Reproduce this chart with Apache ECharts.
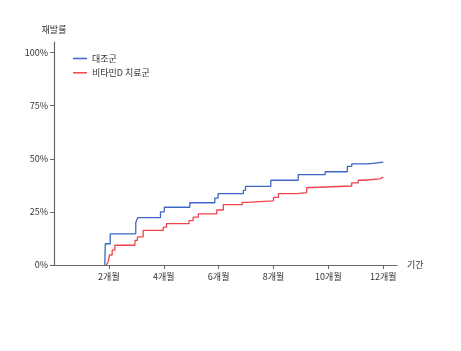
<!DOCTYPE html>
<html>
<head>
<meta charset="utf-8">
<script src="https://cdn.jsdelivr.net/npm/echarts@6/dist/echarts.min.js"></script>
<style>html,body{margin:0;padding:0;background:#fff}#c{width:461px;height:351px}</style>
</head>
<body>
<div id="c"></div>
<script>
var seriesNames = ['대조군', '비타민D 치료군'];
var xTicks = [2, 4, 6, 8, 10, 12];
var yTicks = [0, 25, 50, 75, 100];
// [month, cumulative recurrence %]
var controlData = [
  [1.85, 0], [1.87, 10], [2.05, 14.7], [2.98, 20], [3.05, 22.3], [3.88, 25], [4.02, 27.2],
  [4.95, 29.3], [5.86, 31.5], [5.98, 33.6], [6.9, 35.1], [6.98, 37], [7.9, 39.9],
  [8.9, 42.6], [9.88, 43.9], [10.69, 46.4], [10.85, 47.6], [11.46, 48.4], [12, 48.4]
];
var vitaminDData = [
  [1.91, 0], [1.97, 1.5], [2.03, 4.7], [2.12, 7], [2.22, 9.3], [2.95, 11.6], [3.04, 13.2],
  [3.25, 16.3], [3.98, 17.8], [4.1, 19.5], [4.92, 20.9], [5.07, 22.5], [5.26, 24.1],
  [5.93, 25.9], [6.17, 28.4], [6.86, 29.5], [7.02, 30.2], [8.0, 31.8], [8.18, 33.6],
  [8.85, 34.1], [9.21, 36.5], [9.4, 37.2], [10.85, 38.7], [11.09, 39.9], [11.28, 40.6],
  [11.89, 41.4], [12, 41.4]
];
var colors = ['#3f66c4', '#f0444c'];
var font = '"Noto Sans CJK KR", "Noto Sans", sans-serif';

var chart = echarts.init(document.getElementById('c'));
chart.setOption({
  animation: false,
  textStyle: { fontFamily: font },
  grid: { left: 54, right: 64, top: 42, bottom: 86 },
  legend: {
    orient: 'vertical', left: 73, top: 53, padding: 0,
    itemWidth: 14, itemHeight: 1.5, itemGap: 3.3,
    icon: 'rect',
    textStyle: { fontSize: 9, color: '#333', fontFamily: font, lineHeight: 11 },
    data: seriesNames
  },
  xAxis: {
    type: 'value', min: 0, max: 12.5,
    name: '기간', nameLocation: 'end', nameGap: 10,
    nameTextStyle: { fontSize: 9, color: '#333', fontFamily: font },
    axisLine: { lineStyle: { color: '#666', width: 1.2 } },
    axisTick: { show: true, length: 4, lineStyle: { color: '#666' }, customValues: xTicks },
    axisLabel: { fontSize: 9, color: '#333', margin: 7, customValues: xTicks, formatter: function (v) { return v + '개월'; } },
    splitLine: { show: false }
  },
  yAxis: {
    type: 'value', min: 0, max: 105,
    name: '재발률', nameLocation: 'end', nameGap: 8,
    nameTextStyle: { fontSize: 9, color: '#333', fontFamily: font },
    axisLine: { show: true, lineStyle: { color: '#666', width: 1.2 } },
    axisTick: { show: true, length: 4, lineStyle: { color: '#666' }, customValues: yTicks },
    axisLabel: { fontSize: 9, color: '#333', margin: 6, customValues: yTicks, formatter: function (v) { return v + '%'; } },
    splitLine: { show: false }
  },
  series: [
    { name: seriesNames[0], type: 'line', step: 'end', data: controlData, showSymbol: false, symbol: 'none',
      lineStyle: { color: colors[0], width: 1.3 }, itemStyle: { color: colors[0] } },
    { name: seriesNames[1], type: 'line', step: 'end', data: vitaminDData, showSymbol: false, symbol: 'none',
      lineStyle: { color: colors[1], width: 1.3 }, itemStyle: { color: colors[1] } }
  ]
});
</script>
</body>
</html>
